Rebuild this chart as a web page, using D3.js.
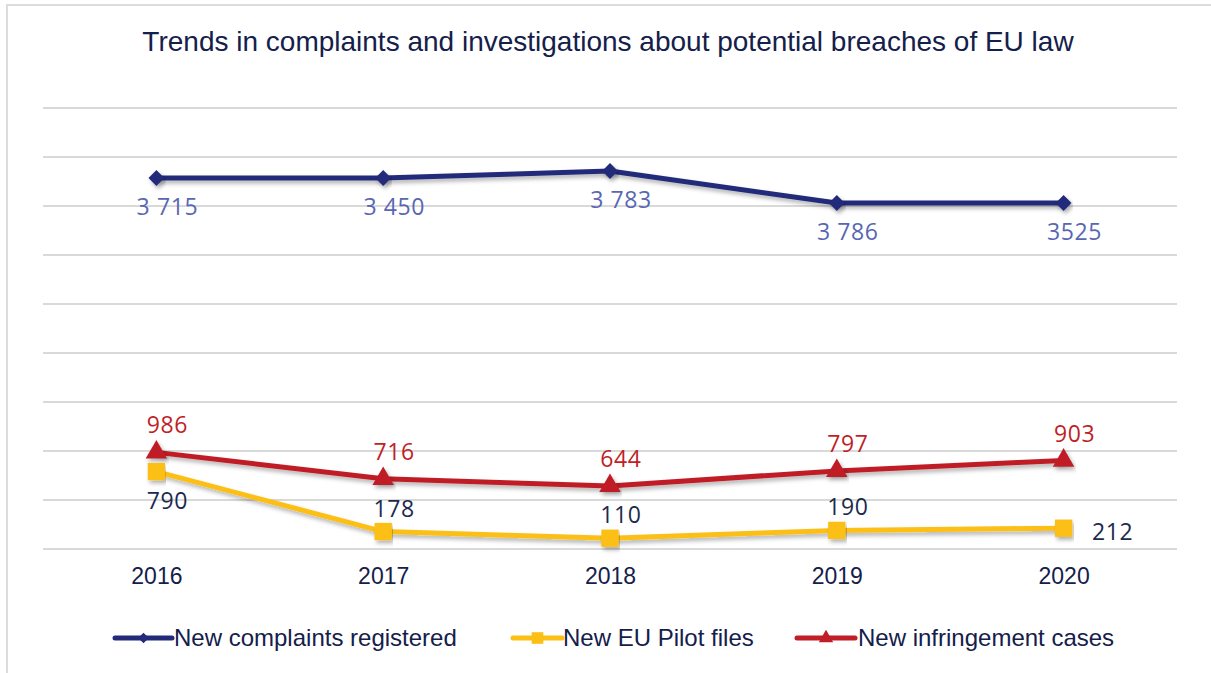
<!DOCTYPE html>
<html>
<head>
<meta charset="utf-8">
<script src="https://cdn.jsdelivr.net/npm/d3@7"></script>
<style>
  html, body { margin: 0; padding: 0; background: #fff; }
  #chart { width: 1211px; height: 673px; }
</style>
</head>
<body>
<div id="chart"></div>
<script>
// Data
const years = ["2016", "2017", "2018", "2019", "2020"];
const complaints = [3786, 3786, 3857, 3531, 3531];
const complaintsLabels = ["3 715", "3 450", "3 783", "3 786", "3525"];
const pilotFiles = [790, 178, 110, 190, 212];
const pilotLabels = ["790", "178", "110", "190", "212"];
const infringements = [986, 716, 644, 797, 903];
const infringementLabels = ["986", "716", "644", "797", "903"];
const yTicks = [0, 500, 1000, 1500, 2000, 2500, 3000, 3500, 4000, 4500];

const width = 1211;
const height = 673;
const margin = { top: 108, right: 34, bottom: 124, left: 43 };
const sans = "'Liberation Sans', Arial, sans-serif";

const svg = d3.select("#chart")
  .append("svg")
  .attr("width", width)
  .attr("height", height);

// drop shadow under the lines
const defs = svg.append("defs");
const f = defs.append("filter").attr("id", "shadow")
  .attr("x", "-5%").attr("y", "-50%").attr("width", "110%").attr("height", "200%");
f.append("feDropShadow")
  .attr("dx", 2).attr("dy", 3).attr("stdDeviation", 2)
  .attr("flood-color", "#000").attr("flood-opacity", 0.3);

// outer frame
svg.append("path")
  .attr("d", `M7,${height} V5 H${width}`)
  .attr("fill", "none")
  .attr("stroke", "#dcdcdc")
  .attr("stroke-width", 2);

const x = d3.scalePoint()
  .domain(years)
  .range([margin.left, width - margin.right])
  .padding(0.5);

const y = d3.scaleLinear()
  .domain([0, 4500])
  .range([height - margin.bottom, margin.top]);

// gridlines
svg.append("g")
  .selectAll("line")
  .data(yTicks)
  .join("line")
  .attr("x1", margin.left)
  .attr("x2", width - margin.right)
  .attr("y1", d => y(d))
  .attr("y2", d => y(d))
  .attr("stroke", "#d9d9d9")
  .attr("stroke-width", 2);

// title
svg.append("text")
  .attr("x", 608)
  .attr("y", 51)
  .attr("text-anchor", "middle")
  .attr("font-family", sans)
  .attr("font-size", 28)
  .attr("fill", "#14204a")
  .text("Trends in complaints and investigations about potential breaches of EU law");

// x axis labels
const xAxis = svg.append("g")
  .attr("transform", `translate(0,${height - margin.bottom})`)
  .call(d3.axisBottom(x).tickSize(0).tickPadding(19));
xAxis.select(".domain").remove();
xAxis.selectAll("text")
  .attr("font-family", sans)
  .attr("font-size", 23)
  .attr("fill", "#14204a");

const series = [
  { name: "New complaints registered", values: complaints, labels: complaintsLabels,
    color: "#232a7a", labelColor: "#5867b4", symbol: d3.symbolDiamond2, size: 160,
    place: ["below", "below", "below", "below", "below"], above: 16 },
  { name: "New EU Pilot files", values: pilotFiles, labels: pilotLabels,
    color: "#fbbf16", labelColor: "#1b2a4e", symbol: d3.symbolSquare, size: 300,
    place: ["below", "above", "above", "above", "right"], above: 15 },
  { name: "New infringement cases", values: infringements, labels: infringementLabels,
    color: "#c01f28", labelColor: "#c01f28", symbol: d3.symbolTriangle, size: 200,
    place: ["above", "above", "above", "above", "above"], above: 19 }
];

const line = d3.line()
  .x((d, i) => x(years[i]))
  .y(d => y(d));

// draw in order: complaints, infringements, pilot on top of red at 2016
[series[0], series[2], series[1]].forEach(s => {
  const g = svg.append("g");
  g.append("path")
    .datum(s.values)
    .attr("fill", "none")
    .attr("stroke", s.color)
    .attr("stroke-width", 5)
    .attr("stroke-linejoin", "round")
    .attr("filter", "url(#shadow)")
    .attr("d", line);

  g.selectAll(".pt")
    .data(s.values)
    .join("path")
    .attr("class", "pt")
    .attr("transform", (d, i) => `translate(${x(years[i])},${y(d)})`)
    .attr("d", d3.symbol().type(s.symbol).size(s.size))
    .attr("fill", s.color)
    .attr("filter", "url(#shadow)");
});

// data labels
series.forEach(s => {
  svg.append("g")
    .selectAll("text")
    .data(s.values)
    .join("text")
    .attr("x", (d, i) => {
      const p = s.place[i];
      return x(years[i]) + (p === "right" ? 49 : 11);
    })
    .attr("y", (d, i) => {
      const p = s.place[i];
      if (p === "above") return y(d) - s.above;
      if (p === "right") return y(d) + 12;
      return y(d) + 37;
    })
    .attr("text-anchor", "middle")
    .attr("font-family", "'Open Sans', sans-serif")
    .attr("font-size", 23)
    .attr("letter-spacing", 0.6)
    .attr("fill", s.labelColor)
    .text((d, i) => s.labels[i]);
});

// legend: line start, line length, text start
const legendLayout = [[115, 57, 174], [513, 49, 563], [797, 58, 858]];
const legend = svg.append("g")
  .attr("transform", `translate(0,638)`);
series.forEach((s, i) => {
  const [lx, len, tx] = legendLayout[i];
  legend.append("line")
    .attr("x1", lx).attr("x2", lx + len)
    .attr("y1", 0).attr("y2", 0)
    .attr("stroke", s.color)
    .attr("stroke-width", 5)
    .attr("stroke-linecap", "round");
  legend.append("path")
    .attr("transform", `translate(${lx + len / 2},0)`)
    .attr("d", d3.symbol().type(s.symbol).size(s.size * 0.45))
    .attr("fill", s.color);
  legend.append("text")
    .attr("x", tx)
    .attr("y", 8)
    .attr("font-family", sans)
    .attr("font-size", 24)
    .attr("fill", "#14204a")
    .text(s.name);
});
</script>
</body>
</html>
